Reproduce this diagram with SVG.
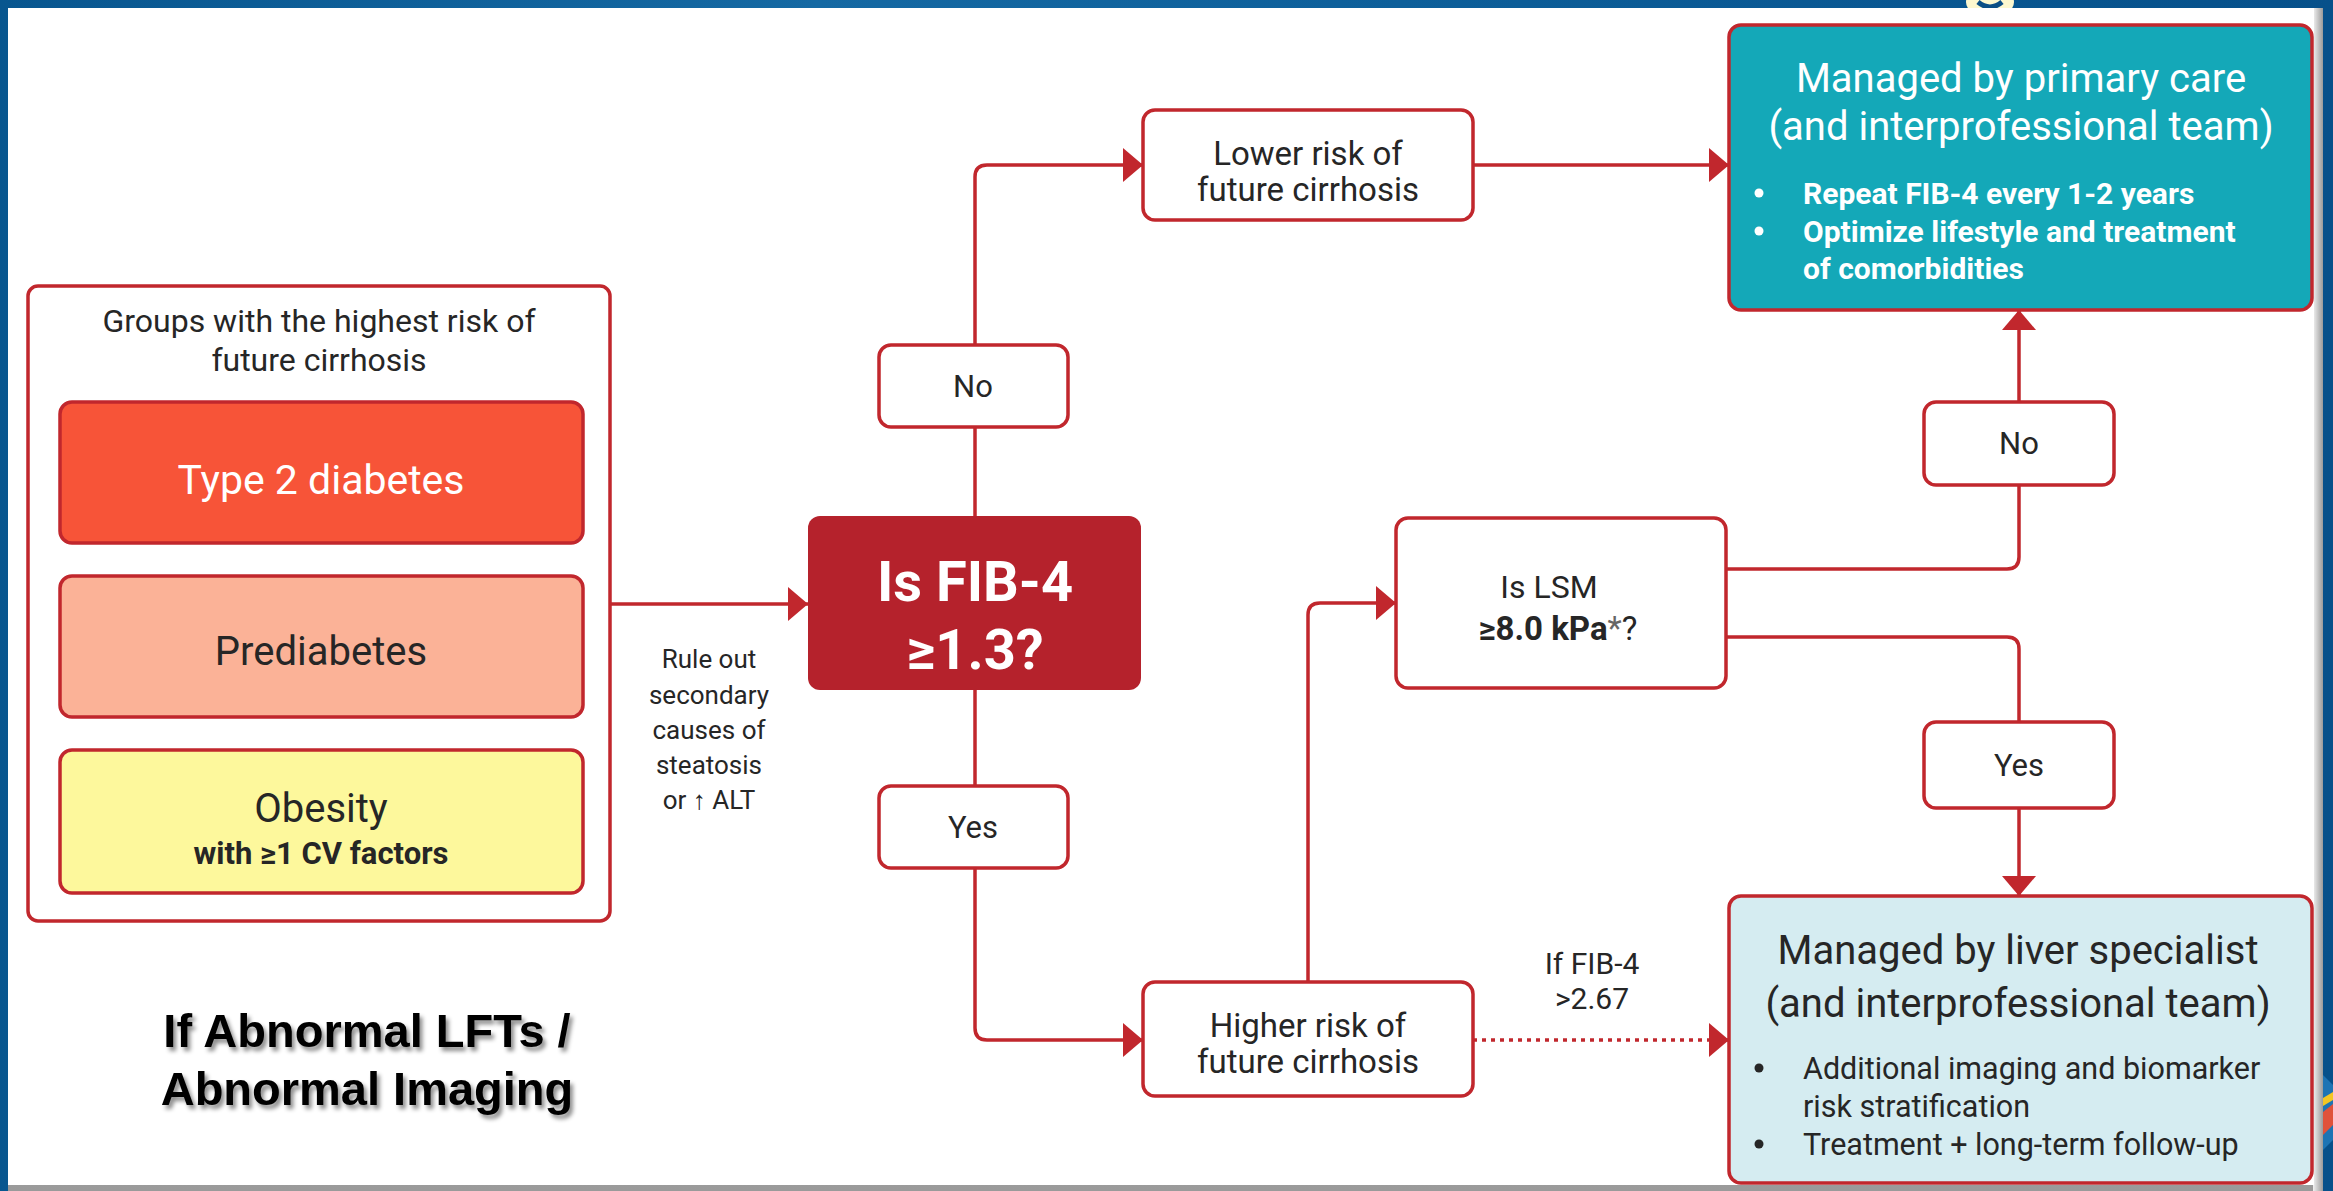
<svg xmlns="http://www.w3.org/2000/svg" width="2333" height="1191" viewBox="0 0 2333 1191">
<defs>
<linearGradient id="bg" x1="0" y1="0" x2="1" y2="0">
<stop offset="0" stop-color="#08568f"/>
<stop offset="0.35" stop-color="#1569a3"/>
<stop offset="0.6" stop-color="#0d5f9a"/>
<stop offset="1" stop-color="#06508a"/>
</linearGradient>
<linearGradient id="bevR" x1="0" y1="0" x2="1" y2="0">
<stop offset="0" stop-color="#f2f2f2"/>
<stop offset="1" stop-color="#9a9a9a"/>
</linearGradient>
<linearGradient id="bevB" x1="0" y1="0" x2="0" y2="1">
<stop offset="0" stop-color="#e6e6e6"/>
<stop offset="1" stop-color="#9a9a9a"/>
</linearGradient>
<marker id="arr" markerUnits="userSpaceOnUse" markerWidth="20" markerHeight="34" refX="20" refY="17" orient="auto">
<path d="M0,0 L20,17 L0,34 z" fill="#c1272d"/>
</marker>
<filter id="shadow" x="-10%" y="-20%" width="120%" height="150%">
<feDropShadow dx="3" dy="4" stdDeviation="2" flood-color="#000" flood-opacity="0.45"/>
</filter>
</defs>
<style>
.t{font-family:Roboto,"Liberation Sans",Arial,sans-serif;fill:#262626}
.c{text-anchor:middle}
.w{fill:#ffffff}
.b{font-weight:bold}
.box{fill:#ffffff;stroke:#c1272d;stroke-width:3.5}
.ln{fill:none;stroke:#c1272d;stroke-width:3.5}
</style>
<!-- background frame -->
<rect x="0" y="0" width="2333" height="1191" fill="url(#bg)"/>
<ellipse cx="1990" cy="2" rx="24" ry="16" fill="#fdf8cf"/>
<path d="M1978,2 Q1990,12 2002,2" fill="none" stroke="#0b4f86" stroke-width="5"/>
<path d="M2323,1075 L2333,1085 L2333,1140 L2323,1150 z" fill="#1d74b4"/>
<path d="M2323,1098 L2333,1092 L2333,1100 L2323,1106 z" fill="#f3c623"/>
<path d="M2323,1112 L2333,1104 L2333,1125 L2323,1135 z" fill="#e0523a"/>
<rect x="8" y="8" width="2315" height="1183" fill="url(#bevB)"/>
<rect x="2313" y="8" width="10" height="1183" fill="url(#bevR)"/>
<rect x="8" y="8" width="2306" height="1177" fill="#ffffff"/>

<g id="connectors">
<path class="ln" d="M610,604 H808" marker-end="url(#arr)"/>
<path class="ln" d="M975,516 V427"/>
<path class="ln" d="M975,345 V177 Q975,165 987,165 H1143" marker-end="url(#arr)"/>
<path class="ln" d="M975,690 V786"/>
<path class="ln" d="M975,868 V1028 Q975,1040 987,1040 H1143" marker-end="url(#arr)"/>
<path class="ln" d="M1473,165 H1729" marker-end="url(#arr)"/>
<path class="ln" d="M1308,982 V615 Q1308,603 1320,603 H1396" marker-end="url(#arr)"/>
<path class="ln" d="M1726,569 H2007 Q2019,569 2019,557 V485"/>
<path class="ln" d="M2019,402 V310" marker-end="url(#arr)"/>
<path class="ln" d="M1726,637 H2007 Q2019,637 2019,649 V722"/>
<path class="ln" d="M2019,808 V896" marker-end="url(#arr)"/>
<path class="ln" d="M1473,1040 H1729" stroke-dasharray="4 5" marker-end="url(#arr)"/>
</g>

<g id="risk-groups">
<rect class="box" x="28" y="286" width="582" height="635" rx="10"/>
<text class="t c" x="319" y="332" font-size="32">Groups with the highest risk of</text>
<text class="t c" x="319" y="371" font-size="32">future cirrhosis</text>
</g>
<g id="type2">
<rect x="60" y="402" width="523" height="141" rx="12" fill="#f75438" stroke="#c1272d" stroke-width="3.5"/>
<text class="t c w" x="321" y="494" font-size="41">Type 2 diabetes</text>
</g>
<g id="prediabetes">
<rect x="60" y="576" width="523" height="141" rx="12" fill="#fbb297" stroke="#c1272d" stroke-width="3.5"/>
<text class="t c" x="321" y="665" font-size="40">Prediabetes</text>
</g>
<g id="obesity">
<rect x="60" y="750" width="523" height="143" rx="12" fill="#fdf89c" stroke="#c1272d" stroke-width="3.5"/>
<text class="t c" x="321" y="822" font-size="40">Obesity</text>
<text class="t c b" x="321" y="864" font-size="31">with ≥1 CV factors</text>
</g>

<g id="rule-out">
<text class="t c" x="709" y="668" font-size="26">Rule out</text>
<text class="t c" x="709" y="704" font-size="26">secondary</text>
<text class="t c" x="709" y="739" font-size="26">causes of</text>
<text class="t c" x="709" y="774" font-size="26">steatosis</text>
<text class="t c" x="709" y="809" font-size="26">or ↑ ALT</text>
</g>

<g id="fib4">
<rect x="808" y="516" width="333" height="174" rx="12" fill="#b5222c"/>
<text class="t c w b" x="975" y="601" font-size="56">Is FIB-4</text>
<text class="t c w b" x="975" y="669" font-size="56">≥1.3?</text>
</g>

<g id="no1">
<rect class="box" x="879" y="345" width="189" height="82" rx="12"/>
<text class="t c" x="973" y="397" font-size="31">No</text>
</g>
<g id="yes1">
<rect class="box" x="879" y="786" width="189" height="82" rx="12"/>
<text class="t c" x="973" y="838" font-size="31">Yes</text>
</g>

<g id="lower-risk">
<rect class="box" x="1143" y="110" width="330" height="110" rx="12"/>
<text class="t c" x="1308" y="165" font-size="33">Lower risk of</text>
<text class="t c" x="1308" y="201" font-size="33">future cirrhosis</text>
</g>
<g id="higher-risk">
<rect class="box" x="1143" y="982" width="330" height="114" rx="12"/>
<text class="t c" x="1308" y="1037" font-size="33">Higher risk of</text>
<text class="t c" x="1308" y="1073" font-size="33">future cirrhosis</text>
</g>

<g id="lsm">
<rect class="box" x="1396" y="518" width="330" height="170" rx="12"/>
<text class="t c" x="1549" y="598" font-size="32">Is LSM</text>
<text class="t c" x="1558" y="640" font-size="33"><tspan class="b">≥8.0 kPa</tspan><tspan fill="#666">*</tspan>?</text>
</g>

<g id="no2">
<rect class="box" x="1924" y="402" width="190" height="83" rx="12"/>
<text class="t c" x="2019" y="454" font-size="31">No</text>
</g>
<g id="yes2">
<rect class="box" x="1924" y="722" width="190" height="86" rx="12"/>
<text class="t c" x="2019" y="776" font-size="31">Yes</text>
</g>

<g id="fib-label">
<text class="t c" x="1592" y="974" font-size="30">If FIB-4</text>
<text class="t c" x="1592" y="1009" font-size="30">&gt;2.67</text>
</g>

<g id="primary-care">
<rect x="1729" y="25" width="583" height="285" rx="12" fill="#14a8b8" stroke="#c1272d" stroke-width="3.5"/>
<text class="t c w" x="2021" y="92" font-size="40">Managed by primary care</text>
<text class="t c w" x="2021" y="140" font-size="40">(and interprofessional team)</text>
<circle cx="1759" cy="193" r="4.5" fill="#ffffff"/>
<circle cx="1759" cy="231" r="4.5" fill="#ffffff"/>
<text class="t w b" x="1803" y="204" font-size="30">Repeat FIB-4 every 1-2 years</text>
<text class="t w b" x="1803" y="242" font-size="30">Optimize lifestyle and treatment</text>
<text class="t w b" x="1803" y="279" font-size="30">of comorbidities</text>
</g>

<g id="liver-specialist">
<rect x="1729" y="896" width="583" height="287" rx="12" fill="#d5ecf1" stroke="#c1272d" stroke-width="3.5"/>
<text class="t c" x="2018" y="964" font-size="40">Managed by liver specialist</text>
<text class="t c" x="2018" y="1017" font-size="40">(and interprofessional team)</text>
<circle cx="1759" cy="1068" r="4.5" fill="#262626"/>
<circle cx="1759" cy="1144" r="4.5" fill="#262626"/>
<text class="t" x="1803" y="1079" font-size="30.5">Additional imaging and biomarker</text>
<text class="t" x="1803" y="1117" font-size="30.5">risk stratification</text>
<text class="t" x="1803" y="1155" font-size="30.5">Treatment + long-term follow-up</text>
</g>

<g id="abnormal-label" filter="url(#shadow)">
<text x="367" y="1047" font-size="47" font-weight="bold" text-anchor="middle" font-family="'Liberation Sans',Arial,sans-serif" fill="#000">If Abnormal LFTs /</text>
<text x="367" y="1105" font-size="47" font-weight="bold" text-anchor="middle" font-family="'Liberation Sans',Arial,sans-serif" fill="#000">Abnormal Imaging</text>
</g>
</svg>
